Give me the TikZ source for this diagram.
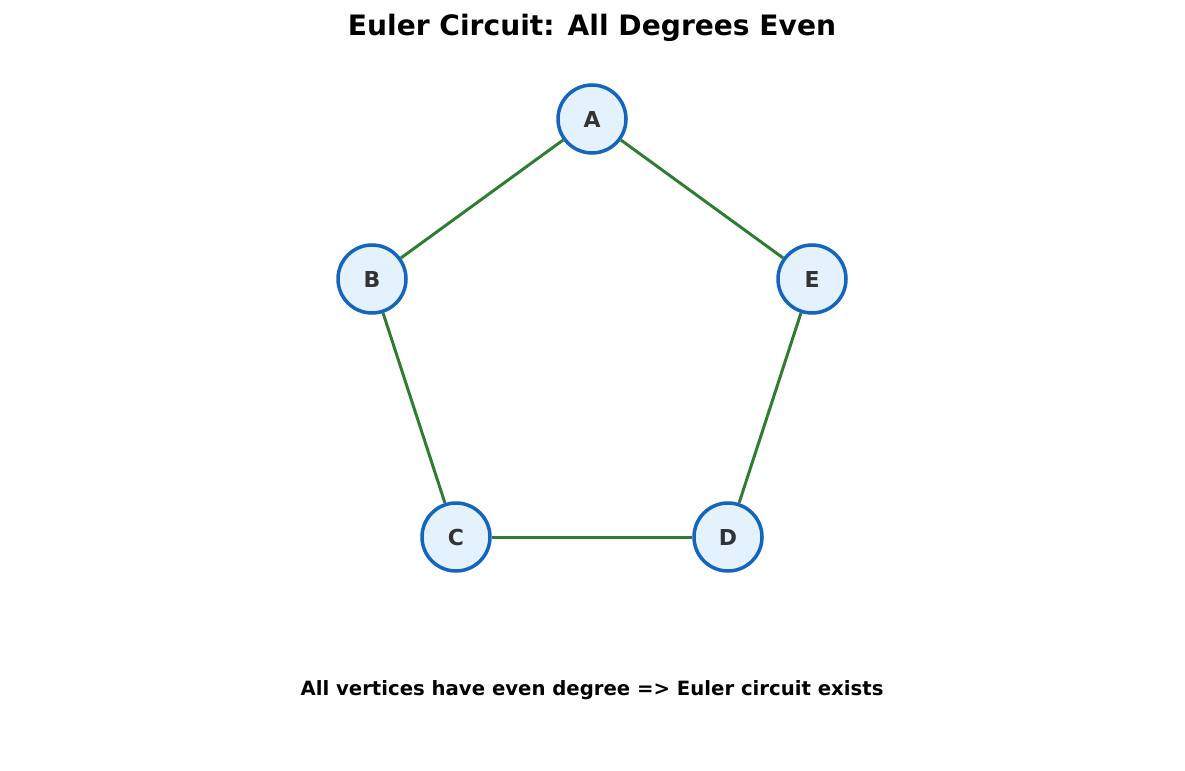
\documentclass[tikz,border=0pt]{standalone}
\usepackage{fontspec}
\setmainfont{DejaVu Sans}
\definecolor{edgegreen}{HTML}{2E7D32}
\definecolor{nodefill}{HTML}{E3F2FD}
\definecolor{nodeline}{HTML}{1565C0}
\definecolor{labeltext}{HTML}{333333}
\begin{document}
\begin{tikzpicture}[x=0.02cm, y=-0.02cm,
    vertex/.style={circle, draw=nodeline, fill=nodefill, line width=2pt,
      minimum size=1.36cm, inner sep=0pt, text=labeltext,
      font=\fontsize{12.5}{14}\selectfont\bfseries},
    edge/.style={draw=edgegreen, line width=1.7pt}]
      \useasboundingbox (0,0) rectangle (1185,770);
      \node[font=\fontsize{16}{19}\selectfont\bfseries] (title) at (592,28) {Euler Circuit: All Degrees Even};
      % Knoten
      \node[vertex] (A) at (592,119) {A};
      \node[vertex] (B) at (372,279) {B};
      \node[vertex] (E) at (812,279) {E};
      \node[vertex] (C) at (456,537) {C};
      \node[vertex] (D) at (728,537) {D};
      % Kanten
      \draw[edge] (A) -- (B);
      \draw[edge] (B) -- (C);
      \draw[edge] (C) -- (D);
      \draw[edge] (D) -- (E);
      \draw[edge] (E) -- (A);
      \node[font=\fontsize{11.2}{13}\selectfont\bfseries] (note) at (592,690) {All vertices have even degree => Euler circuit exists};
    \end{tikzpicture}
\end{document}
